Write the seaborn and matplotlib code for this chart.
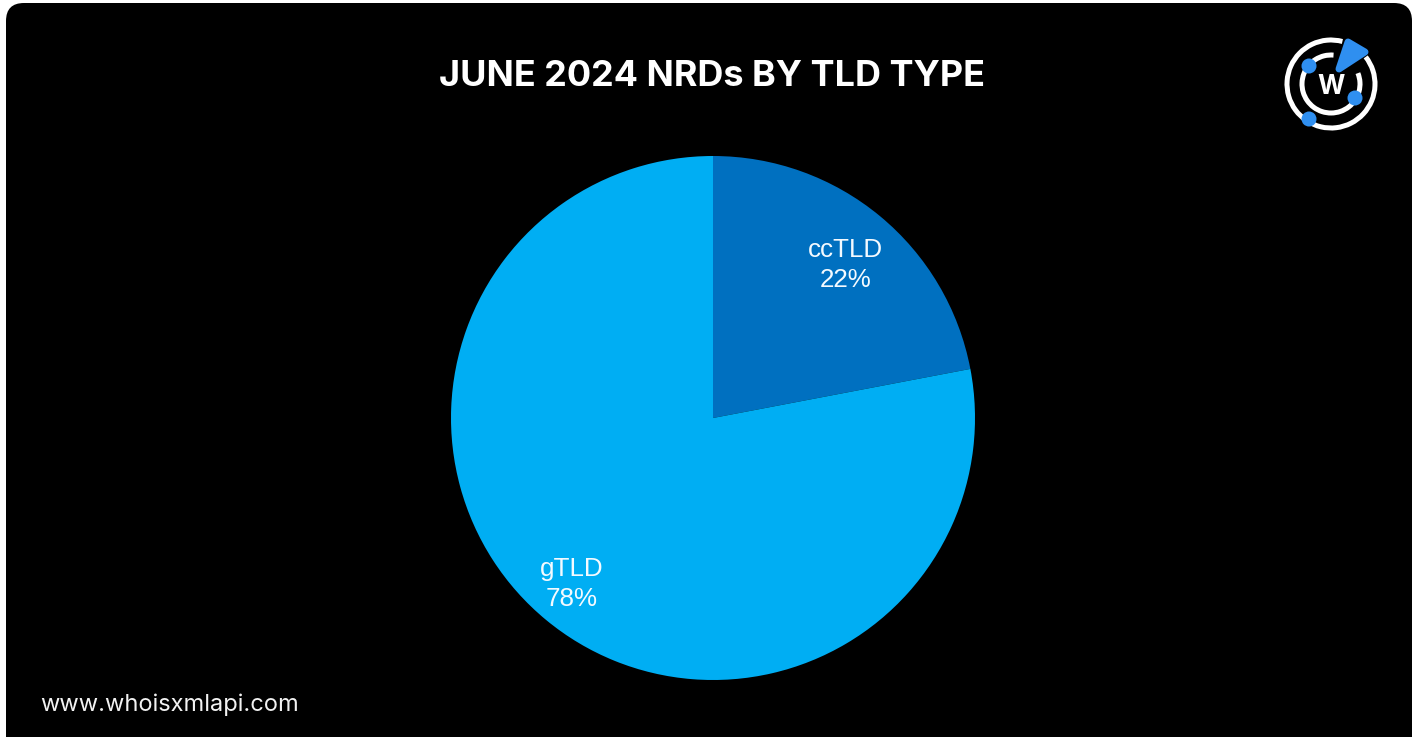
import numpy as np
import matplotlib
matplotlib.use("Agg")
import matplotlib.pyplot as plt
from matplotlib.patches import FancyBboxPatch, Arc, Circle, Polygon
import seaborn as sns

W, H = 1417, 737

categories = ["ccTLD", "gTLD"]
shares = [22, 78]
slice_colors = ["#0070C0", "#00AEF3"]
title = "JUNE 2024 NRDs BY TLD TYPE"
site = "www.whoisxmlapi.com"

sns.set_theme(style="white")
plt.rcParams["font.family"] = ["Liberation Sans", "DejaVu Sans"]

fig = plt.figure(figsize=(W / 100, H / 100), dpi=100, facecolor="white")

# Backdrop layer in pixel coordinates
bg = fig.add_axes([0, 0, 1, 1], zorder=0)
bg.set_xlim(0, W)
bg.set_ylim(H, 0)
bg.axis("off")
bg.add_patch(FancyBboxPatch((6 + 18, 3 + 18), 1406 - 36, 770 - 36,
                            boxstyle="round,pad=18,rounding_size=18",
                            fc="black", ec="none"))

bg.text(712, 76, title, color="white", fontsize=25.9, fontweight="bold",
        family="Inter", ha="center", va="center")
bg.text(40, 705, site, color="#F2F2F2", fontsize=17, family="Inter",
        ha="left", va="center")

# Pie
cx, cy, r = 713, 418, 262
pie_ax = fig.add_axes([(cx - r) / W, 1 - (cy + r) / H, 2 * r / W, 2 * r / H], zorder=1)
pie_ax.set_facecolor("none")
wedges, _ = pie_ax.pie(shares, colors=slice_colors, startangle=90, counterclock=False,
                       radius=1, wedgeprops={"linewidth": 0})
pie_ax.set_xlim(-1, 1)
pie_ax.set_ylim(-1, 1)

label_xy = [((845.5 - cx) / r, (cy - 265) / r), ((572 - cx) / r, (cy - 584) / r)]
for name, val, (lx, ly) in zip(categories, shares, label_xy):
    pie_ax.text(lx, ly, f"{name}\n{val}%", color="#F4FAFF", fontsize=18.7,
                ha="center", va="center", linespacing=1.3)

# Logo mark
top = fig.add_axes([0, 0, 1, 1], zorder=2)
top.set_xlim(0, W)
top.set_ylim(H, 0)
top.axis("off")
lc, ly0 = 1331, 84
top.add_patch(Arc((lc, ly0), 88, 88, theta1=-38, theta2=-75 + 360, ec="white", lw=3.6))
top.add_patch(Arc((lc, ly0), 58, 58, theta1=-22, theta2=-85 + 360, ec="white", lw=3.6))
top.add_patch(Polygon([(1348, 42), (1365, 52), (1339, 69)], closed=True, fc="#2F8FF0",
                      ec="#2F8FF0", lw=5, joinstyle="round"))
for px, py in [(1309, 66), (1355, 98), (1309, 119)]:
    top.add_patch(Circle((px, py), 7.5, fc="#2F8FF0", ec="none"))
top.text(1331, 87, "W", color="white", fontsize=19, fontweight="bold", family="Inter",
         ha="center", va="center")

fig.savefig("out.png", dpi=100, facecolor="white")
